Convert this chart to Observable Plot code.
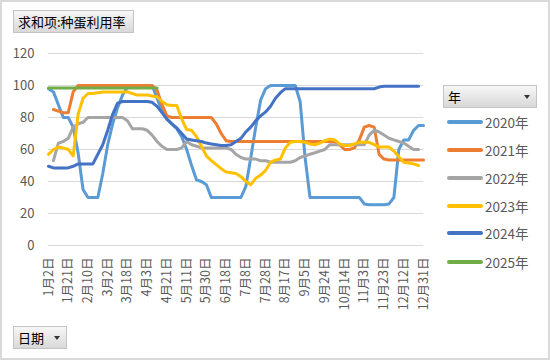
<!DOCTYPE html>
<html><head><meta charset="utf-8">
<script src="https://cdn.jsdelivr.net/npm/d3@7"></script>
<script src="https://cdn.jsdelivr.net/npm/@observablehq/plot@0.6"></script>
<style>
body{margin:0;background:#fff;font-family:"Noto Sans CJK SC","Noto Sans",sans-serif;}
#wrap{position:relative;width:550px;height:360px;overflow:hidden;background:#fff}
#chart{position:absolute;left:0;top:0}
.btn{position:absolute;box-sizing:border-box;background:linear-gradient(#f7f7f7,#d8d8d8);border:1px solid #c4c4c4;font-size:13px;color:#000;line-height:21px;padding-left:4px;white-space:nowrap}
.arrow{position:absolute;right:6px;top:9px;width:0;height:0;border-left:3.5px solid transparent;border-right:3.5px solid transparent;border-top:4px solid #333}
#frame{position:absolute;left:0;top:0;width:550px;height:360px;box-sizing:border-box;border:2px solid #d9d9d9;pointer-events:none}
.leg{position:absolute;left:447px;width:36px;height:4px;border-radius:2px}
.legt{position:absolute;left:485px;font-size:13.5px;color:#595959;line-height:16px}
</style></head><body>
<div id="wrap"><div id="chart"></div>
<div class="btn" style="left:13px;top:10px;width:121px;height:23px">求和项:种蛋利用率</div>
<div class="btn" style="left:13px;top:326px;width:54px;height:23px">日期<div class="arrow"></div></div>
<div class="btn" style="left:443px;top:85px;width:94px;height:23px">年<div class="arrow"></div></div>
<div id="legend"></div>
<div id="frame"></div>
</div>
<script>
const xLabels = ["1月2日","1月21日","2月10日","3月2日","3月18日","4月3日","4月21日","5月11日","5月30日","6月18日","7月8日","7月28日","8月17日","9月5日","9月24日","10月14日","11月3日","11月23日","12月12日","12月31日"];
const yTicks = [0,20,40,60,80,100,120];
const years = ["2020年","2021年","2022年","2023年","2024年","2025年"];
const colors = ["#5B9BD5","#ED7D31","#A5A5A5","#FFC000","#4472C4","#70AD47"];
const _ = null;
const v2020 = [98,96,88,80,80,74,58,35,30,30,30,45,63,76,86,94,99,
  100,100,100,100,100,
  92,84,79,76,73,68,60,50,41,40,38,30,
  30,30,30,30,30,30,
  37,55,74,91,98,100,100,100,100,100,100,90,55,30,
  30,30,30,30,30,30,30,30,30,30,
  26,25.5,25.5,25.5,25.5,26,30,60,66,66,72,75,75];
const v2021 = [_,85,84,83,83,96,
  100,100,100,100,100,100,100,100,100,100,100,100,100,100,100,100,
  97,88,81,80,80,80,80,80,80,80,80,80,76,70,65.5,
  65,65,65,65,65,65,65,65,65,65,65,65,65,65,65,65,65,65,65,65,65,65,
  63,60,60,61,66,74,75,74,57,54,
  53.5,53.5,53.5,53.5,53.5,53.5,53.5,53.5];
const v2022 = [_,53,64,65,67,74,76,77,80,
  80,80,80,80,80,80,80,
  78,73,73,73,72,69,65,62,60,60,60,61,65,63,62,
  61,61,61,61,61,61,
  60,57,55,54,54,54,53,53,52,
  52,52,52,52,
  53,55,56,57,58,59,60,63,
  63,63,63,63,63,63,63,
  69,72,71,69,67,66,65,64,62,60,60,_];
const v2023 = [57,60,61.5,61,60,56,82,92,95,95,95.5,96,
  96,96,96,96,96,
  95,94,94,94,93.5,93,90,88,87.5,87.5,79,72.5,72,68,62,56,53,50.5,48,46,45.5,45,43,40,38,42,44,47,52,53.5,54,61,64.5,65,65,64.5,63.5,63,64,65.5,66.5,66,63.5,62.5,62.5,63.5,64.5,64.5,64.5,63,61.5,61.5,61.5,59,55.5,52,51.5,51,50,_];
const v2024 = [49.5,48.5,48.5,48.5,48.5,49.5,51,51,51,51,57,63,72,82,89,90,90,90,90,90,90,89.5,87,83,79,76,73.5,70,66.5,66,65.5,65,64,63.5,63,62.5,62.5,63,65,67,71,74,78,81,83.5,87,92,95.5,98,
  98,98,98,98,98,98,98,98,98,98,98,98,98,98,98,98,98,98,
  99,
  99.5,99.5,99.5,99.5,99.5,99.5,99.5,99.5,_];
const v2025 = [98.5,98.5,98.5,98.5,98.5,98.5,98.5,98.5,98.5,98.5,98.5,98.5,98.5,98.5,98.5,98.5,98.5,98.5,98.5,98.5,98.5,98.5,98.5,
  _,_,_,_,_,_,_,_,_,_,_,_,_,_,_,_,_,_,_,_,_,_,_,_,_,_,_,_,_,_,_,_,_,_,_,_,_,_,_,_,_,_,_,_,_,_,_,_,_,_,_,_,_,_,_,_,_,_,_];
const series = [v2020,v2021,v2022,v2023,v2024,v2025];
const stepsPerLabel = 4;
const nCat = (xLabels.length - 1) * stepsPerLabel;

const rows = [];
series.forEach((vals, s) => vals.forEach((v, k) => { if (v != null && k <= nCat) rows.push({k, year: years[s], v}); }));

const chart = Plot.plot({
  width: 550, height: 360,
  marginLeft: 48, marginRight: 127, marginTop: 53, marginBottom: 115,
  style: {fontFamily: '"Noto Sans CJK SC","Noto Sans",sans-serif', color: "#595959", background: "transparent", fontSize: "13px"},
  x: {domain: [0, nCat]},
  y: {domain: [0, 120]},
  color: {domain: years, range: colors},
  marks: [
    Plot.ruleY(yTicks, {stroke: "#d9d9d9", strokeWidth: 1}),
    Plot.axisY({ticks: yTicks, tickSize: 0, tickPadding: 14, fontSize: 13, label: null}),
    Plot.axisX({ticks: xLabels.map((d, i) => i * stepsPerLabel), tickFormat: k => xLabels[Math.round(k / stepsPerLabel)], tickRotate: -90, tickSize: 0, tickPadding: 12, fontSize: 12.5, label: null}),
    Plot.line(rows, {x: "k", y: "v", z: "year", stroke: "year", strokeWidth: 3, strokeLinejoin: "round"})
  ]
});
document.getElementById("chart").appendChild(chart);

const legend = document.getElementById("legend");
const legY = [122, 150, 178, 206, 233, 262];
years.forEach((y, i) => {
  const l = document.createElement("div");
  l.className = "leg"; l.style.top = (legY[i] - 2) + "px"; l.style.background = colors[i];
  const t = document.createElement("div");
  t.className = "legt"; t.style.top = (legY[i] - 8) + "px"; t.textContent = y;
  legend.appendChild(l); legend.appendChild(t);
});
</script>
</body></html>
